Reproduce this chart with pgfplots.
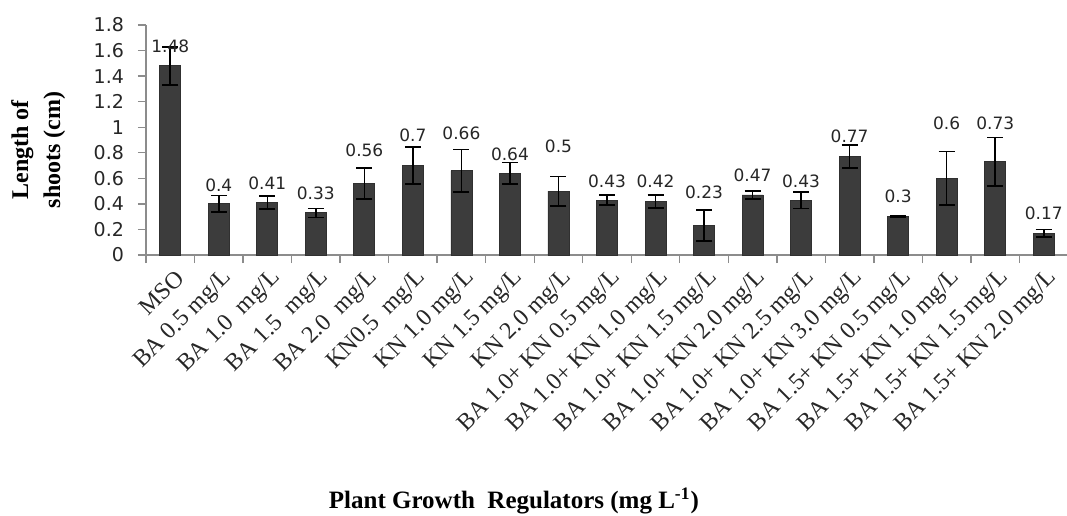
\documentclass[border=0pt]{standalone}
\usepackage{fontspec}
\setmainfont{Liberation Serif}
\newfontfamily\lblfont{DejaVu Sans}
\usepackage{pgfplots}
\usepackage{pgfplotstable}
\pgfplotsset{compat=1.18}

\definecolor{barc}{HTML}{3C3C3C}
\definecolor{axc}{HTML}{8C8C8C}

\pgfplotstableread{
x y e ly lab
0 1.48 0.15 1.636 1.48
1 0.40 0.065 0.548 0.4
2 0.41 0.05 0.561 0.41
3 0.33 0.035 0.483 0.33
4 0.56 0.12 0.822 0.56
5 0.70 0.145 0.939 0.7
6 0.66 0.165 0.952 0.66
7 0.64 0.085 0.790 0.64
8 0.50 0.115 0.848 0.5
9 0.43 0.04 0.574 0.43
10 0.42 0.05 0.574 0.42
11 0.23 0.12 0.488 0.23
12 0.47 0.03 0.621 0.47
13 0.43 0.065 0.574 0.43
14 0.77 0.09 0.926 0.77
15 0.30 0.005 0.457 0.3
16 0.60 0.21 1.030 0.6
17 0.73 0.19 1.030 0.73
18 0.17 0.03 0.326 0.17
}\data

\begin{document}
\begin{tikzpicture}
\path[use as bounding box] (-73pt,-130pt) rectangle (460.5pt,127.5pt);
\clip (-73pt,-130pt) rectangle (460.5pt,127.5pt);
\begin{axis}[
  at={(0,0)}, anchor=south west,
  scale only axis, width=461pt, height=115pt,
  xmin=-0.5, xmax=18.5, ymin=0, ymax=1.8,
  clip=false,
  axis x line*=bottom, axis y line*=left,
  axis line style={axc, line width=0.7pt},
  tick style={axc, line width=0.7pt},
  tick align=outside,
  major tick length=4pt, minor tick length=4pt,
  xtick={0,...,18},
  minor xtick={-0.5,0.5,...,18.5},
  major x tick style={draw=none},
  xticklabels={MSO, BA 0.5 mg/L, BA 1.0\ \ mg/L, BA 1.5\ \ mg/L, BA 2.0\ \ mg/L, KN0.5\ \ mg/L, KN 1.0 mg/L, KN 1.5 mg/L, KN 2.0 mg/L, BA 1.0+ KN 0.5 mg/L, BA 1.0+ KN 1.0 mg/L, BA 1.0+ KN 1.5 mg/L, BA 1.0+ KN 2.0 mg/L, BA 1.0+ KN 2.5 mg/L, BA 1.0+ KN 3.0 mg/L, BA 1.5+ KN 0.5 mg/L, BA 1.5+ KN 1.0 mg/L, BA 1.5+ KN 1.5 mg/L, BA 1.5+ KN 2.0 mg/L},
  xticklabel style={font=\fontsize{12}{14}\selectfont, rotate=45, anchor=east, inner sep=0pt, text=black!85, yshift=-7.5pt, xshift=-0.5pt},
  ytick={0,0.2,0.4,0.6,0.8,1,1.2,1.4,1.6,1.8},
  yticklabels={0,0.2,0.4,0.6,0.8,1,1.2,1.4,1.6,1.8},
  yticklabel style={font=\lblfont\fontsize{9.5}{10}\selectfont, text=black!85, xshift=-3.5pt},
  xlabel={Plant Growth\ \ Regulators (mg L\textsuperscript{-1})},
  xlabel style={at={(axis description cs:0.399,-1.1)}, anchor=base, font=\bfseries\fontsize{12.5}{14}\selectfont},
  ylabel={Length of\\shoots (cm)},
  ylabel style={at={(axis description cs:-0.117,0.457)}, anchor=center, align=center, font=\bfseries\fontsize{12}{16}\selectfont},
]
\addplot[ybar, bar width=10.5pt, fill=barc, draw=barc!80!black,
  error bars/.cd, y dir=both, y explicit,
  error bar style={black, line width=0.8pt},
  error mark options={black, rotate=90, mark size=4pt, line width=0.8pt}]
  table[x=x, y=y, y error=e]{\data};
\addplot[only marks, mark=*, mark size=0pt, mark options={draw=none, fill=none},
  nodes near coords, point meta=explicit symbolic,
  every node near coord/.append style={anchor=center, inner sep=0pt, font=\lblfont\fontsize{8.5}{10}\selectfont, text=black!85}]
  table[x=x, y=ly, meta=lab]{\data};
\end{axis}
\end{tikzpicture}
\end{document}
